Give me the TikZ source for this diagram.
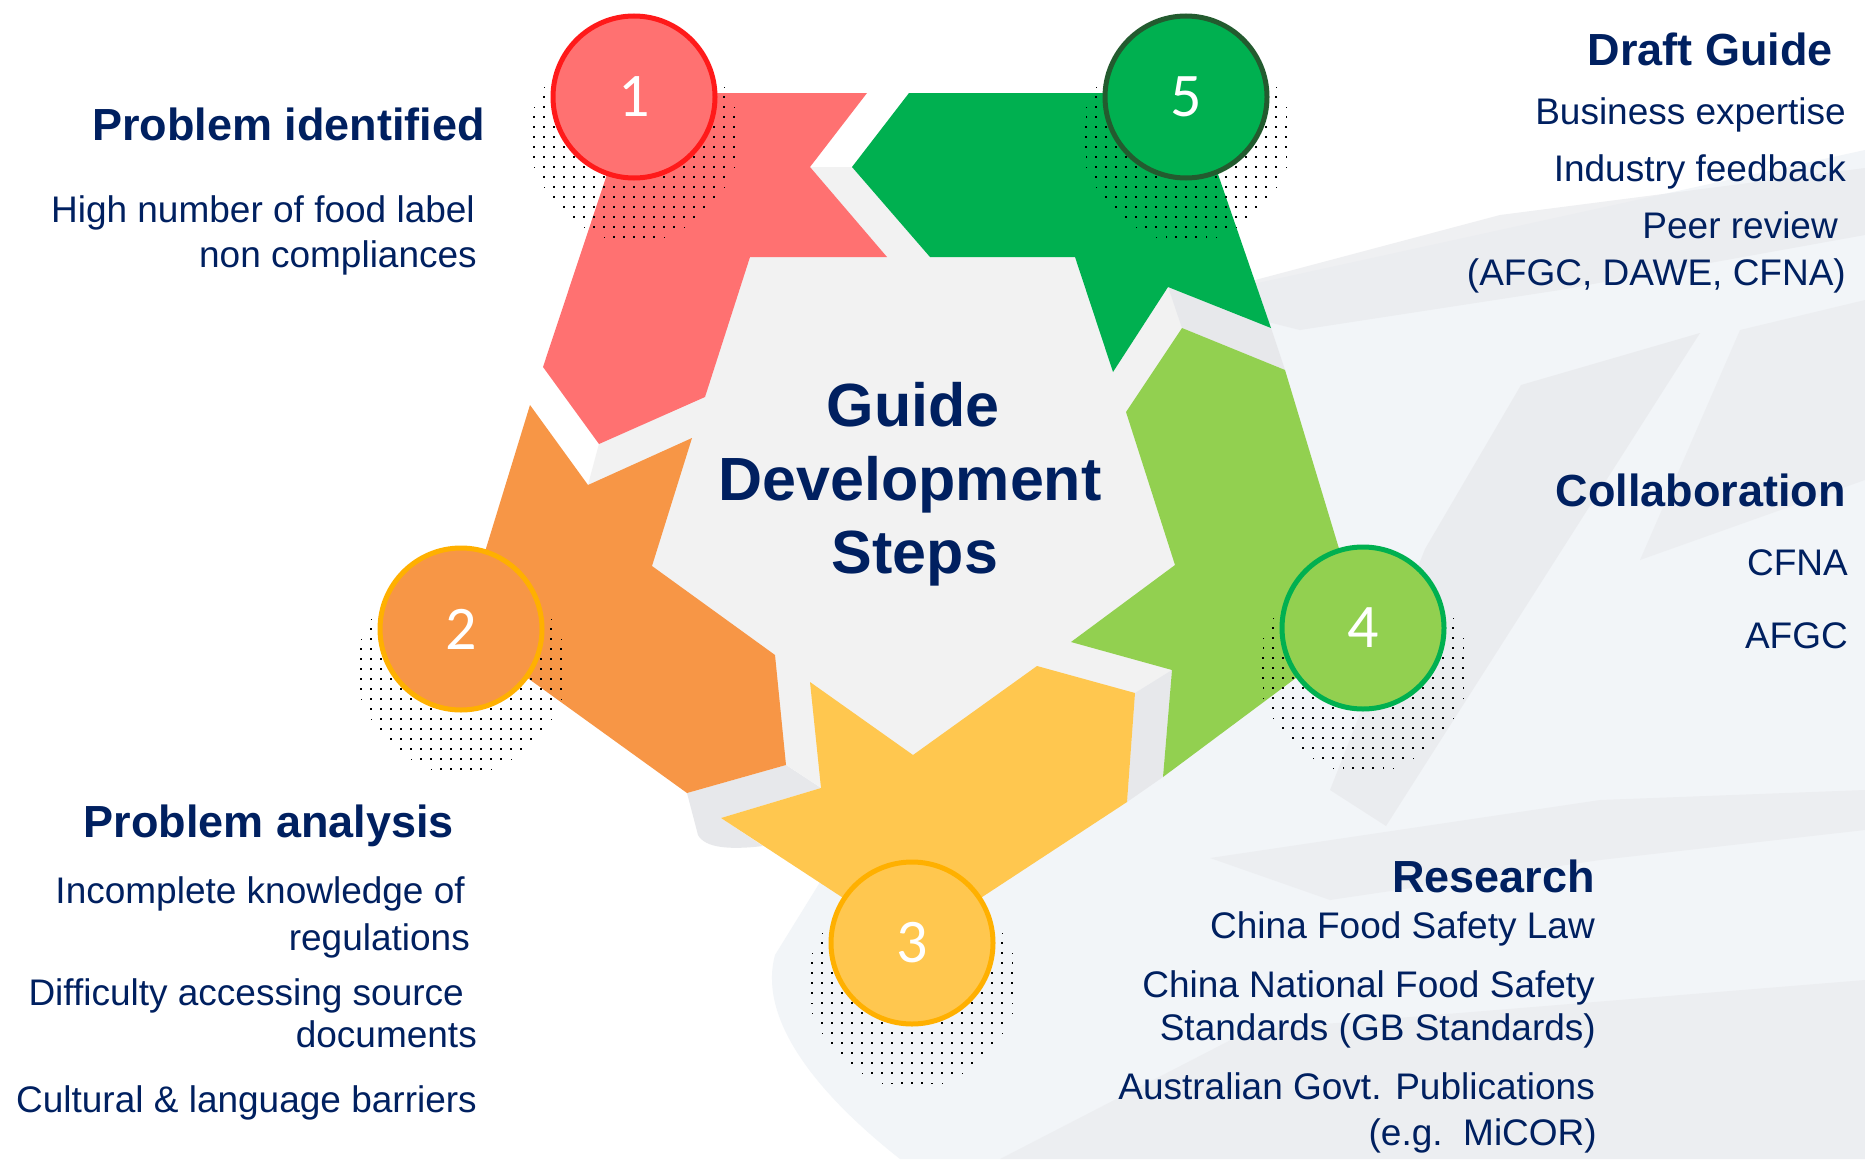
\documentclass[tikz,border=0pt]{standalone}
\usepackage{fontspec}
\setmainfont{Liberation Sans}
\newfontfamily\numfont{Carlito}

\definecolor{navy}{HTML}{002060}
\definecolor{redfill}{HTML}{FF7171}
\definecolor{redline}{HTML}{FF1A1A}
\definecolor{orangefill}{HTML}{F79646}
\definecolor{yellowfill}{HTML}{FFC74F}
\definecolor{ambline}{HTML}{FFB000}
\definecolor{limefill}{HTML}{92D050}
\definecolor{greenfill}{HTML}{00B050}
\definecolor{darkgreen}{HTML}{235B2F}
\definecolor{hubgrey}{HTML}{F2F2F2}
\definecolor{shadegrey}{HTML}{E7E8EB}
\definecolor{bgblue}{HTML}{F2F5F8}
\definecolor{bgband}{HTML}{E9EAED}

\tikzset{
  head/.style={anchor=base east, text=navy, inner sep=0pt,
    font=\fontsize{45}{54}\selectfont\bfseries},
  item/.style={anchor=base east, text=navy, inner sep=0pt,
    font=\fontsize{37}{44}\selectfont},
  hubtext/.style={anchor=base, text=navy, inner sep=0pt,
    font=\fontsize{61}{74}\selectfont\bfseries},
  badge/.style={circle, minimum size=162pt, line width=5pt, inner sep=0pt,
    text=white, font=\numfont\fontsize{62}{62}\selectfont},
}

% halftone shadow round a badge
\newcommand\halftone[2]{%
  \foreach \i in {-12,...,12}{
    \foreach \j in {-11,...,14}{
      \pgfmathsetmacro\dd{10*sqrt(\i*\i+(\j-4)*(\j-4))}
      \pgfmathsetmacro\ss{4.2*(1-\dd/135)}
      \ifdim\ss pt>0.9pt
        \fill[black] (#1+\i*10-\ss/2,#2+\j*10-\ss/2) rectangle ++(\ss,\ss);
      \fi
    }
  }
}

\begin{document}
\begin{tikzpicture}[x=1pt,y=-1pt]
    \useasboundingbox (0,0) rectangle (1865,1159);
    \fill[white] (0,0) rectangle (1865,1159);

    % background
    \fill[bgblue] (1180,300) -- (1865,150) -- (1865,1159) -- (900,1159)
        .. controls (800,1080) and (760,1010) .. (775,955) -- cycle;
    \fill[bgband, opacity=0.7] (1180,300) -- (1500,215) -- (1865,168) -- (1865,235)
        -- (1560,290) -- (1300,330) -- cycle;
    \fill[bgband, opacity=0.8] (1521,385) -- (1700,333) -- (1386,826) -- (1330,790)
        -- (1425,549) -- cycle;
    \fill[bgband, opacity=0.6] (1740,330) -- (1865,300) -- (1865,480) -- (1640,560) -- cycle;
    \fill[bgband, opacity=0.6] (1210,858) -- (1600,800) -- (1865,790) -- (1865,830)
        -- (1600,860) -- (1330,900) -- cycle;
    \fill[bgband, opacity=0.6] (1000,1159) -- (1250,1030) -- (1865,980) -- (1865,1159) -- cycle;

    % hub
    \fill[hubgrey] (673,167) -- (1127,167) -- (1277,605) -- (899,839) -- (554,612) -- cycle;
    \fill[shadegrey] (1168,287) -- (1271,328) -- (1285,370) -- (1182,328) -- cycle;
    \fill[shadegrey] (1135,693) -- (1172,670) -- (1163,777) -- (1127,802) -- cycle;
    \fill[shadegrey] (687,793) -- (786,765) -- (821,788) -- (721,818) -- (763,846)
        .. controls (730,850) and (705,848) .. (698,835) -- cycle;

    % arrows
    \fill[redfill] (634,93) -- (867,93) -- (810,167) -- (887,257) -- (750,257)
        -- (705,397) -- (599,444) -- (543,367) -- cycle;
    \fill[orangefill] (461,630) -- (530,405) -- (588,485) -- (692,438) -- (652,566)
        -- (775,655) -- (786,765) -- (687,793) -- cycle;
    \fill[yellowfill] (912,943) -- (721,818) -- (821,788) -- (810,682) -- (913,755)
        -- (1037,666) -- (1135,693) -- (1127,802) -- cycle;
    \fill[limefill] (1363,628) -- (1163,777) -- (1172,670) -- (1071,642) -- (1175,565)
        -- (1126,412) -- (1182,328) -- (1285,370) -- cycle;
    \fill[greenfill] (909,93) -- (1190,93) -- (1271,328) -- (1168,287) -- (1113,372)
        -- (1075,257) -- (930,257) -- (852,167) -- cycle;

    % shadows
    \halftone{634}{97}
    \halftone{1186}{97}
    \halftone{461}{629}
    \halftone{1363}{628}
    \halftone{912}{943}

    % badges
    \node[badge, fill=redfill, draw=redline]      at (634,97)   (b1) {1};
    \node[badge, fill=orangefill, draw=ambline]   at (461,629)  (b2) {2};
    \node[badge, fill=yellowfill, draw=ambline]   at (912,943)  (b3) {3};
    \node[badge, fill=limefill, draw=greenfill]   at (1363,628) (b4) {4};
    \node[badge, fill=greenfill, draw=darkgreen]  at (1186,97)  (b5) {5};

    % centre
    \node[hubtext] at (913,426) (hub1) {Guide};
    \node[hubtext] at (910,500) (hub2) {Development};
    \node[hubtext] at (915,573) (hub3) {Steps};

    % step 1
    \node[head] at (485,140)  (t1)  {Problem identified};
    \node[item] at (475,222)  (t1a) {High number of food label};
    \node[item] at (477,267)  (t1b) {non compliances};

    % step 2
    \node[head] at (454,837)  (t2)  {Problem analysis};
    \node[item] at (465,903)  (t2a) {Incomplete knowledge of};
    \node[item] at (470,950)  (t2b) {regulations};
    \node[item] at (464,1005) (t2c) {Difficulty accessing source};
    \node[item] at (477,1047) (t2d) {documents};
    \node[item] at (477,1112) (t2e) {Cultural \& language barriers};

    % step 3
    \node[head] at (1595,892)  (t3)  {Research};
    \node[item] at (1595,938)  (t3a) {China Food Safety Law};
    \node[item] at (1595,997)  (t3b) {China National Food Safety};
    \node[item] at (1596,1040) (t3c) {Standards (GB Standards)};
    \node[item] at (1595,1099) (t3d) {Australian Govt. Publications};
    \node[item] at (1597,1145) (t3e) {(e.g.~~MiCOR)};

    % step 4
    \node[head] at (1846,506) (t4)  {Collaboration};
    \node[item] at (1848,575) (t4a) {CFNA};
    \node[item] at (1848,648) (t4b) {AFGC};

    % step 5
    \node[head] at (1833,65)  (t5)  {Draft Guide};
    \node[item] at (1846,124) (t5a) {Business expertise};
    \node[item] at (1846,181) (t5b) {Industry feedback};
    \node[item] at (1838,238) (t5c) {Peer review};
    \node[item] at (1846,285) (t5d) {(AFGC, DAWE, CFNA)};
\end{tikzpicture}
\end{document}
